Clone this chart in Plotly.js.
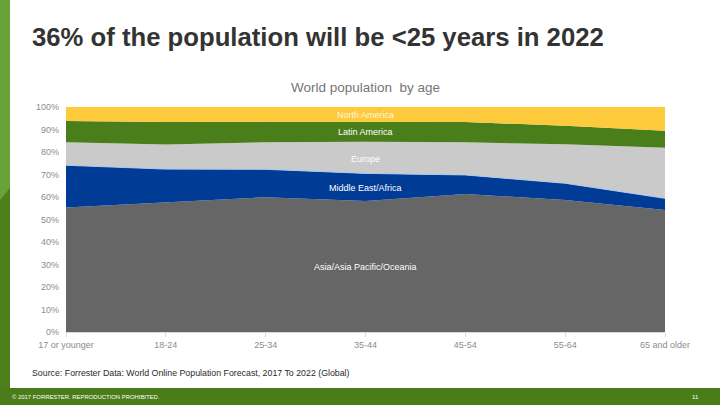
<!DOCTYPE html>
<html>
<head>
<meta charset="utf-8">
<script src="https://cdn.plot.ly/plotly-3.0.1.min.js"></script>
<style>
html,body{margin:0;padding:0;background:#fff;}
#chart{width:720px;height:405px;}
</style>
</head>
<body>
<div id="chart"></div>
<script>
// ---- data ----
var ageGroups = ['17 or younger', '18-24', '25-34', '35-44', '45-54', '55-64', '65 and older'];
var asiaPacific = [55.3, 57.5, 59.9, 58.2, 61.3, 58.7, 54.2];
var middleEastAfrica = [18.8, 14.9, 12.4, 12.3, 8.5, 7.4, 5.2];
var europe = [10.2, 10.9, 12.0, 14.1, 14.5, 17.3, 22.5];
var latinAmerica = [9.5, 10.0, 9.2, 8.7, 9.0, 8.3, 7.6];
var northAmerica = [6.2, 6.7, 6.5, 6.7, 6.7, 8.3, 10.5];
var seriesNames = ['Asia/Asia Pacific/Oceania', 'Middle East/Africa', 'Europe', 'Latin America', 'North America'];
var yTickVals = [0, 10, 20, 30, 40, 50, 60, 70, 80, 90, 100];
var yTickText = ['0%', '10%', '20%', '30%', '40%', '50%', '60%', '70%', '80%', '90%', '100%'];

// ---- layout helpers (pixel -> paper) ----
var W = 720, H = 405;
var L = 66, R = 665, T = 107, B = 332;
function px(x){ return (x - L) / (R - L); }
function py(y){ return (B - y) / (B - T); }

var seriesData = [asiaPacific, middleEastAfrica, europe, latinAmerica, northAmerica];
var colors = ['#666666', '#003b96', '#cacaca', '#4a7e1b', '#fdca3c'];
var lineColors = ['#666666', '#a9c6ec', '#cacaca', '#4a7e1b', '#fdca3c'];
var lineWidths = [0, 1, 0, 0, 0];
var traces = seriesData.map(function(vals, i){
  return {
    x: ageGroups, y: vals, name: seriesNames[i],
    type: 'scatter', mode: 'lines', stackgroup: 'one',
    line: {width: lineWidths[i], color: lineColors[i]}, fillcolor: colors[i],
    hoverinfo: 'skip'
  };
});

var FONT = 'Liberation Sans, Arial, sans-serif';
var labelY = [28.9, 64, 76.9, 88.9, 96.4];
var annotations = seriesNames.map(function(n, i){
  return {x: '35-44', y: labelY[i], xref: 'x', yref: 'y', xanchor: 'center', yanchor: 'middle', text: n, showarrow: false,
          font: {family: FONT, size: 9, color: i === 4 ? '#fff7dc' : '#ffffff'}};
});
function note(x, y, text, xa, font){
  annotations.push({x: px(x), y: py(y), xref: 'paper', yref: 'paper', xanchor: xa, yanchor: 'middle',
    text: text, showarrow: false, font: font});
}
note(365, 88, 'World population  by age', 'center', {family: FONT, size: 13.5, color: '#767676'});
note(30, 37, '<b>36% of the population will be &lt;25 years in 2022</b>', 'left',
  {family: 'Liberation Sans Narrow, Liberation Sans, Arial, sans-serif', size: 25.7, color: '#333333'});
note(30, 373, 'Source: Forrester Data: World Online Population Forecast, 2017 To 2022 (Global)', 'left',
  {family: FONT, size: 8.8, color: '#2a2a2a'});
note(10, 396.5, '© 2017 FORRESTER. REPRODUCTION PROHIBITED.', 'left', {family: FONT, size: 5.9, color: '#ffffff'});
note(701, 396.5, '11', 'right', {family: FONT, size: 6, color: '#ffffff'});

var shapes = [
  {type: 'rect', xref: 'paper', yref: 'paper', x0: px(0), x1: px(10), y0: py(0), y1: py(388), fillcolor: '#6aa23a', line: {width: 0}, layer: 'below'},
  {type: 'path', xref: 'paper', yref: 'paper',
   path: 'M ' + px(0) + ' ' + py(200) + ' L ' + px(10) + ' ' + py(188) + ' L ' + px(10) + ' ' + py(388) + ' L ' + px(0) + ' ' + py(388) + ' Z',
   fillcolor: '#4c801d', line: {width: 0}, layer: 'below'},
  {type: 'rect', xref: 'paper', yref: 'paper', x0: px(0), x1: px(720), y0: py(388), y1: py(405), fillcolor: '#4a7c1a', line: {width: 0}, layer: 'below'}
];

var layout = {
  width: W, height: H,
  margin: {l: L, r: W - R, t: T, b: H - B, pad: 0},
  paper_bgcolor: '#ffffff', plot_bgcolor: '#ffffff',
  showlegend: false,
  xaxis: {type: 'category', range: [0, 6], showgrid: false, zeroline: false,
          showline: true, linecolor: '#d9d9d9', linewidth: 1,
          ticks: 'outside', ticklen: 4, tickcolor: '#d9d9d9',
          tickfont: {family: FONT, size: 9, color: '#8c8c8c'}},
  yaxis: {range: [0, 100], tickmode: 'array', tickvals: yTickVals, ticktext: yTickText, showgrid: false, zeroline: false,
          showline: false, ticks: '', ticklabelstandoff: 6,
          tickfont: {family: FONT, size: 9, color: '#8c8c8c'}},
  annotations: annotations,
  shapes: shapes
};

Plotly.newPlot('chart', traces, layout, {displayModeBar: false, staticPlot: true});
</script>
</body>
</html>
